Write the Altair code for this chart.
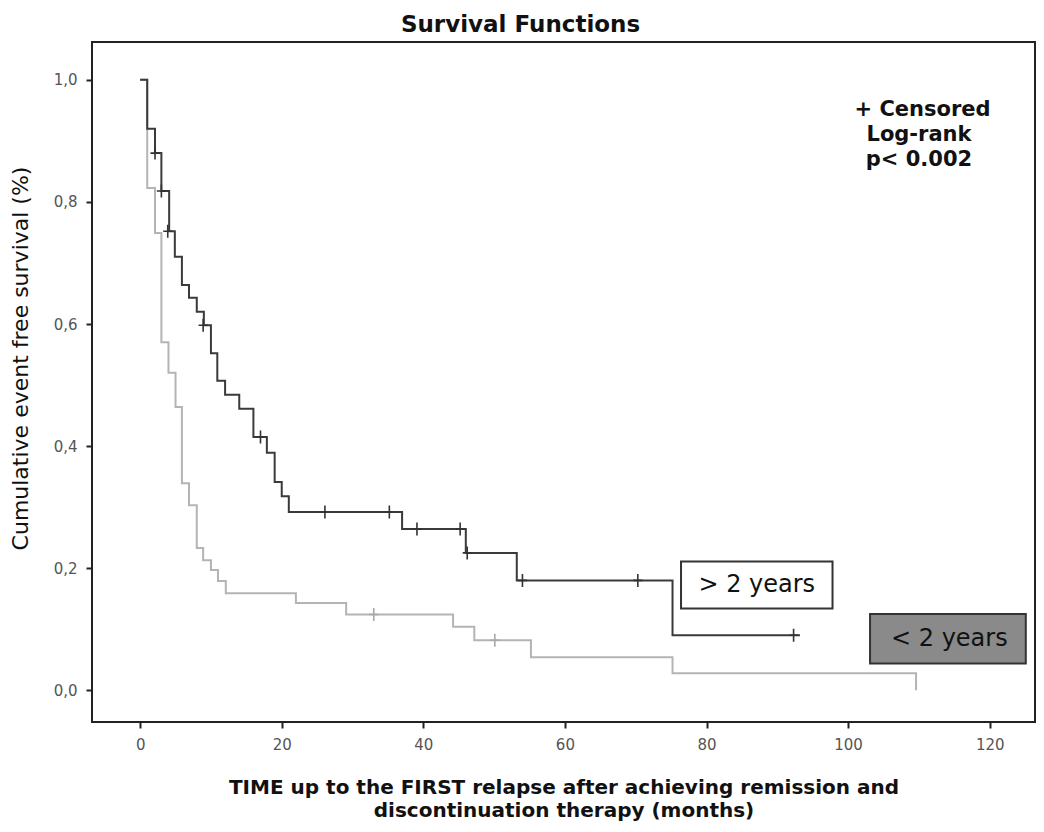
import altair as alt
import pandas as pd

# ---- data ----
# > 2 years group (dark curve): step points (time in months, survival)
dark_t = [0.0, 1.0, 2.1, 3.0, 4.1, 4.9, 5.9, 6.9, 8.0, 9.0, 10.0, 10.9, 12.0,
          14.0, 16.0, 17.9, 19.0, 20.0, 21.0, 37.0, 46.0, 53.2, 75.2, 93.2]
dark_s = [1.0, 0.92, 0.88, 0.818, 0.752, 0.71, 0.664, 0.643, 0.62, 0.598, 0.552,
          0.507, 0.484, 0.461, 0.415, 0.389, 0.341, 0.318, 0.292, 0.264, 0.225,
          0.18, 0.09, 0.09]
# < 2 years group (light curve)
light_t = [0.0, 1.0, 2.1, 3.0, 4.0, 5.0, 5.9, 6.9, 8.0, 8.9, 10.0, 11.0, 12.1,
           22.0, 29.1, 44.2, 47.2, 55.2, 75.2, 109.6]
light_s = [1.0, 0.823, 0.749, 0.57, 0.52, 0.464, 0.339, 0.303, 0.233, 0.213,
           0.197, 0.179, 0.159, 0.143, 0.124, 0.104, 0.082, 0.054, 0.028, 0.0]
# censored observations
cens_dark_t = [2.1, 3.0, 3.9, 8.9, 17.0, 26.1, 35.2, 39.1, 45.2, 46.2, 54.0, 70.3, 92.3]
cens_dark_s = [0.88, 0.818, 0.752, 0.598, 0.415, 0.292, 0.292, 0.264, 0.264,
               0.225, 0.18, 0.18, 0.09]
cens_light_t = [33.0, 50.1]
cens_light_s = [0.124, 0.082]

x_ticks = [0, 20, 40, 60, 80, 100, 120]
y_ticks = [0.0, 0.2, 0.4, 0.6, 0.8, 1.0]

group_labels = ["> 2 years", "< 2 years"]
box_x = [76.4, 103.1]
box_x2 = [97.8, 125.1]
box_y = [0.134, 0.044]
box_y2 = [0.211, 0.125]
box_fill = ["#ffffff", "#8a8a8a"]
box_text_x = [87.1, 114.3]
box_text_y = [0.172, 0.084]

note_lines = ["+\u00a0Censored", "Log-rank", "p<\u00a00.002"]
note_x = [100.9, 102.6, 102.5]
note_y = [0.951, 0.910, 0.869]

FONT = "DejaVu Sans"

xscale = alt.Scale(domain=[-6.8, 126.4], nice=False, zero=False)
yscale = alt.Scale(domain=[-0.052, 1.062], nice=False, zero=False)

xaxis = alt.Axis(values=x_ticks, grid=False, domain=False, ticks=True, tickSize=6,
                 tickWidth=2, tickColor="#222", labelFont=FONT, labelFontSize=15,
                 labelColor="#555", labelPadding=9,
                 title=["TIME up to the FIRST relapse after achieving remission and",
                        "discontinuation therapy (months)"],
                 titleFont=FONT, titleFontSize=20, titleFontWeight="bold",
                 titleColor="#111", titleLineHeight=23, titlePadding=25)
yaxis = alt.Axis(values=y_ticks, grid=False, domain=False, ticks=True, tickSize=6,
                 tickWidth=2, tickColor="#222", labelFont=FONT, labelFontSize=15,
                 labelColor="#555", labelPadding=9,
                 labelExpr="replace(format(datum.value, '.1f'), '.', ',')",
                 title="Cumulative event free survival (%)", titleFont=FONT,
                 titleFontSize=22, titleFontWeight="normal", titleColor="#111",
                 titlePadding=21, titleY=316)


def X(field):
    return alt.X(field, type="quantitative", scale=xscale, axis=xaxis)


def Y(field):
    return alt.Y(field, type="quantitative", scale=yscale, axis=yaxis)


dark_df = pd.DataFrame({"t": dark_t, "s": dark_s})
light_df = pd.DataFrame({"t": light_t, "s": light_s})
cd_df = pd.DataFrame({"t": cens_dark_t, "s": cens_dark_s})
cl_df = pd.DataFrame({"t": cens_light_t, "s": cens_light_s})
box_df = pd.DataFrame({"label": group_labels, "x": box_x, "x2": box_x2, "y": box_y,
                       "y2": box_y2, "fill": box_fill, "tx": box_text_x,
                       "ty": box_text_y})
note_df = pd.DataFrame({"txt": note_lines, "x": note_x, "y": note_y})

plus = "M-0.7,0L0.7,0M0,-1L0,1"

light_line = alt.Chart(light_df).mark_line(
    interpolate="step-after", color="#b4b4b4", strokeWidth=2
).encode(x=X("t"), y=Y("s"))

dark_line = alt.Chart(dark_df).mark_line(
    interpolate="step-after", color="#3a3a3a", strokeWidth=2
).encode(x=X("t"), y=Y("s"))

light_cens = alt.Chart(cl_df).mark_point(
    shape=plus, filled=False, size=169, strokeWidth=1.6, color="#a8a8a8", opacity=1
).encode(x=X("t"), y=Y("s"))

dark_cens = alt.Chart(cd_df).mark_point(
    shape=plus, filled=False, size=169, strokeWidth=1.6, color="#333333", opacity=1
).encode(x=X("t"), y=Y("s"))

boxes = alt.Chart(box_df).mark_rect(stroke="#333", strokeWidth=2).encode(
    x=X("x"), x2="x2", y=Y("y"), y2="y2",
    fill=alt.Fill("fill:N", scale=None)
)

box_text = alt.Chart(box_df).mark_text(
    font=FONT, fontSize=24, color="#111", align="center", baseline="middle"
).encode(x=X("tx"), y=Y("ty"), text="label:N")

notes = alt.Chart(note_df).mark_text(
    font=FONT, fontSize=21, fontWeight="bold", color="#111", align="left",
    baseline="middle"
).encode(x=X("x"), y=Y("y"), text="txt:N")

chart = alt.layer(
    light_line, dark_line, light_cens, dark_cens, boxes, box_text, notes
).properties(
    width=943, height=680,
    background="white",
    title=alt.TitleParams("Survival Functions", font=FONT, fontSize=23,
                          fontWeight="bold", color="#111", anchor="middle",
                          dx=-43, offset=5),
    autosize=alt.AutoSizeParams(type="none"),
    padding={"left": 84, "top": 34, "right": 1, "bottom": 100},
).configure_view(
    stroke="#222", strokeWidth=2
)

chart.save("out.html", embed_options={"renderer": "svg", "actions": False})
